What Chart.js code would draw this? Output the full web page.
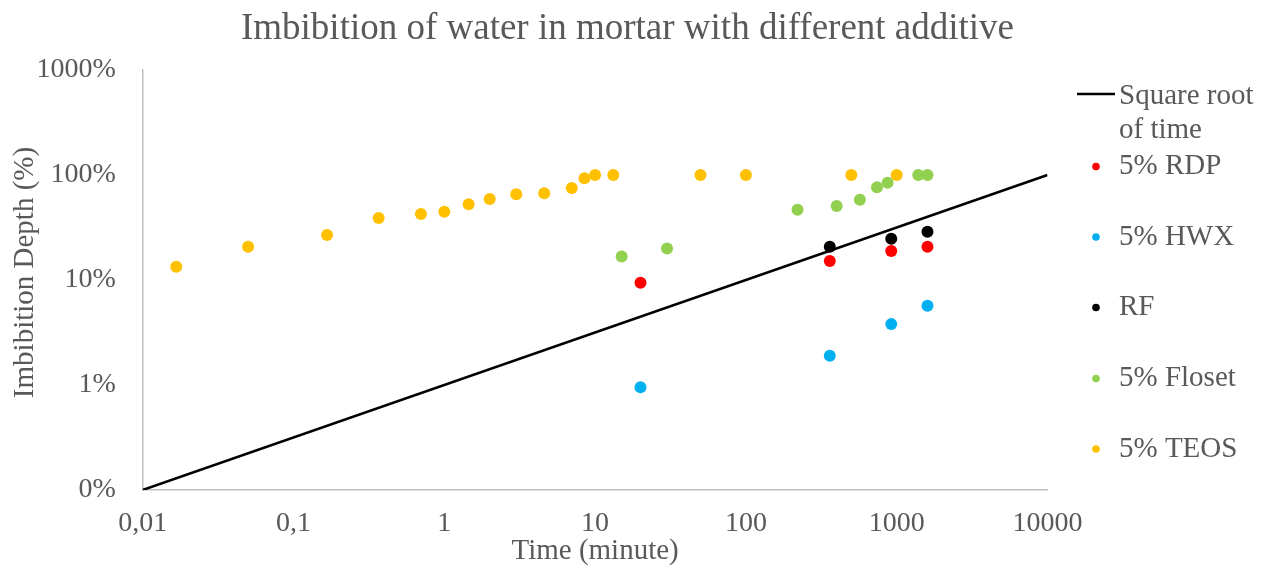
<!DOCTYPE html>
<html>
<head>
<meta charset="utf-8">
<script src="https://cdn.jsdelivr.net/npm/chart.js@4.4.1/dist/chart.umd.min.js"></script>
<style>
html,body{margin:0;padding:0;background:#ffffff;}
#wrap{width:1275px;height:571px;position:relative;}
</style>
</head>
<body>
<div id="wrap"><canvas id="c" width="1275" height="571"></canvas></div>
<script>
// ---- data ----
const chartTitle = 'Imbibition of water in mortar with different additive';
const xAxisTitle = 'Time (minute)';
const yAxisTitle = 'Imbibition Depth (%)';

const xTickValues = [0.01, 0.1, 1, 10, 100, 1000, 10000];
const xTickLabels = ['0,01', '0,1', '1', '10', '100', '1000', '10000'];
const yTickValues = [0.001, 0.01, 0.1, 1, 10];
const yTickLabels = ['0%', '1%', '10%', '100%', '1000%'];

const seriesNames = ['Square root of time', '5% RDP', '5% HWX', 'RF', '5% Floset', '5% TEOS'];

const sqrtTime  = [0.01, 10000];
const sqrtDepth = [0.001, 1];

const rdpTime  = [20, 360, 920, 1600];
const rdpDepth = [0.094, 0.152, 0.189, 0.2075];

const hwxTime  = [20, 360, 920, 1600];
const hwxDepth = [0.0095, 0.019, 0.038, 0.057];

const rfTime  = [360, 920, 1600];
const rfDepth = [0.2075, 0.247, 0.288];

const flosetTime  = [15, 30, 220, 400, 570, 740, 870, 1390, 1600];
const flosetDepth = [0.167, 0.2, 0.467, 0.507, 0.582, 0.764, 0.845, 1, 1];

const teosTime  = [0.0167, 0.05, 0.167, 0.367, 0.7, 1, 1.45, 2, 3, 4.6, 7, 8.5, 10, 13.2, 50, 100, 500, 1000];
const teosDepth = [0.134, 0.2075, 0.268, 0.389, 0.425, 0.447, 0.526, 0.59, 0.655, 0.67, 0.752, 0.93, 1, 1, 1, 1, 1, 1];

// ---- styles ----
const FONT = '"Liberation Serif", "Times New Roman", serif';
const TEXT = '#595959';
const AXIS = '#BFBFBF';
const colors = ['#000000', '#FF0000', '#00B0F0', '#000000', '#92D050', '#FFC000'];

function pts(xs, ys) { return xs.map((x, i) => ({x: x, y: ys[i]})); }

const datasets = [
  {label: seriesNames[0], type: 'line', data: pts(sqrtTime, sqrtDepth), showLine: true, borderColor: colors[0], borderWidth: 2.5, pointRadius: 0, fill: false, order: 6},
  {label: seriesNames[1], data: pts(rdpTime, rdpDepth), backgroundColor: colors[1], borderColor: colors[1], pointRadius: 6, borderWidth: 0, order: 5},
  {label: seriesNames[2], data: pts(hwxTime, hwxDepth), backgroundColor: colors[2], borderColor: colors[2], pointRadius: 6, borderWidth: 0, order: 4},
  {label: seriesNames[3], data: pts(rfTime, rfDepth), backgroundColor: colors[3], borderColor: colors[3], pointRadius: 6, borderWidth: 0, order: 3},
  {label: seriesNames[4], data: pts(flosetTime, flosetDepth), backgroundColor: colors[4], borderColor: colors[4], pointRadius: 6, borderWidth: 0, order: 2},
  {label: seriesNames[5], data: pts(teosTime, teosDepth), backgroundColor: colors[5], borderColor: colors[5], pointRadius: 6, borderWidth: 0, order: 1}
];

const legendRowsY = [96, 166.5, 237, 307.5, 378.5, 449];

const decor = {
  id: 'decor',
  afterDraw(chart) {
    const ctx = chart.ctx;
    ctx.save();
    ctx.fillStyle = TEXT;
    ctx.textBaseline = 'middle';
    // title
    ctx.font = '37px ' + FONT;
    ctx.textAlign = 'center';
    ctx.fillText(chartTitle, 627.5, 29);
    // y axis title
    ctx.save();
    ctx.translate(25, 272.5);
    ctx.rotate(-Math.PI / 2);
    ctx.font = '29px ' + FONT;
    ctx.fillText(yAxisTitle, 0, 0);
    ctx.restore();
    // legend
    ctx.font = '29px ' + FONT;
    ctx.textAlign = 'left';
    const tx = 1119;
    chart.data.datasets.forEach((ds, i) => {
      const y = legendRowsY[i];
      if (ds.type === 'line') {
        ctx.strokeStyle = ds.borderColor;
        ctx.lineWidth = 2.5;
        ctx.beginPath();
        ctx.moveTo(1077, y - 2);
        ctx.lineTo(1115, y - 2);
        ctx.stroke();
        // wrap label
        const words = ds.label.split(' ');
        let lines = [], cur = '';
        words.forEach(w => {
          const t = cur ? cur + ' ' + w : w;
          if (ctx.measureText(t).width > 150 && cur) { lines.push(cur); cur = w; } else { cur = t; }
        });
        lines.push(cur);
        ctx.fillStyle = TEXT;
        lines.forEach((l, k) => ctx.fillText(l, tx, y + k * 34));
      } else {
        ctx.fillStyle = ds.backgroundColor;
        ctx.beginPath();
        ctx.arc(1096, y, 3.8, 0, Math.PI * 2);
        ctx.fill();
        ctx.fillStyle = TEXT;
        ctx.fillText(ds.label, tx, y);
      }
    });
    ctx.restore();
  }
};

new Chart(document.getElementById('c'), {
  type: 'scatter',
  data: {datasets: datasets},
  plugins: [decor],
  options: {
    responsive: false,
    animation: false,
    devicePixelRatio: 1,
    layout: {padding: {left: 0, right: 227.5, top: 70, bottom: 0}},
    plugins: {legend: {display: false}, title: {display: false}, tooltip: {enabled: false}},
    scales: {
      x: {
        type: 'logarithmic',
        min: 0.01, max: 10000,
        afterBuildTicks: (s) => { s.ticks = xTickValues.map(v => ({value: v})); },
        afterFit: (s) => { s.height = 81; },
        grid: {display: false, drawTicks: false},
        border: {display: true, color: AXIS, width: 1.5},
        ticks: {
          autoSkip: false, maxRotation: 0, padding: 17, color: TEXT,
          font: {family: FONT, size: 28},
          callback: (v, i) => xTickLabels[i]
        },
        title: {display: true, text: xAxisTitle, color: TEXT, font: {family: FONT, size: 29}, padding: {top: 0, bottom: 2}}
      },
      y: {
        type: 'logarithmic',
        min: 0.001, max: 10,
        afterBuildTicks: (s) => { s.ticks = yTickValues.map(v => ({value: v})); },
        afterFit: (s) => { s.width = 142.7; },
        grid: {display: false, drawTicks: false},
        border: {display: true, color: AXIS, width: 1.5},
        ticks: {
          autoSkip: false, padding: 27, color: TEXT,
          font: {family: FONT, size: 28},
          callback: (v, i) => yTickLabels[i]
        }
      }
    }
  }
});
</script>
</body>
</html>
